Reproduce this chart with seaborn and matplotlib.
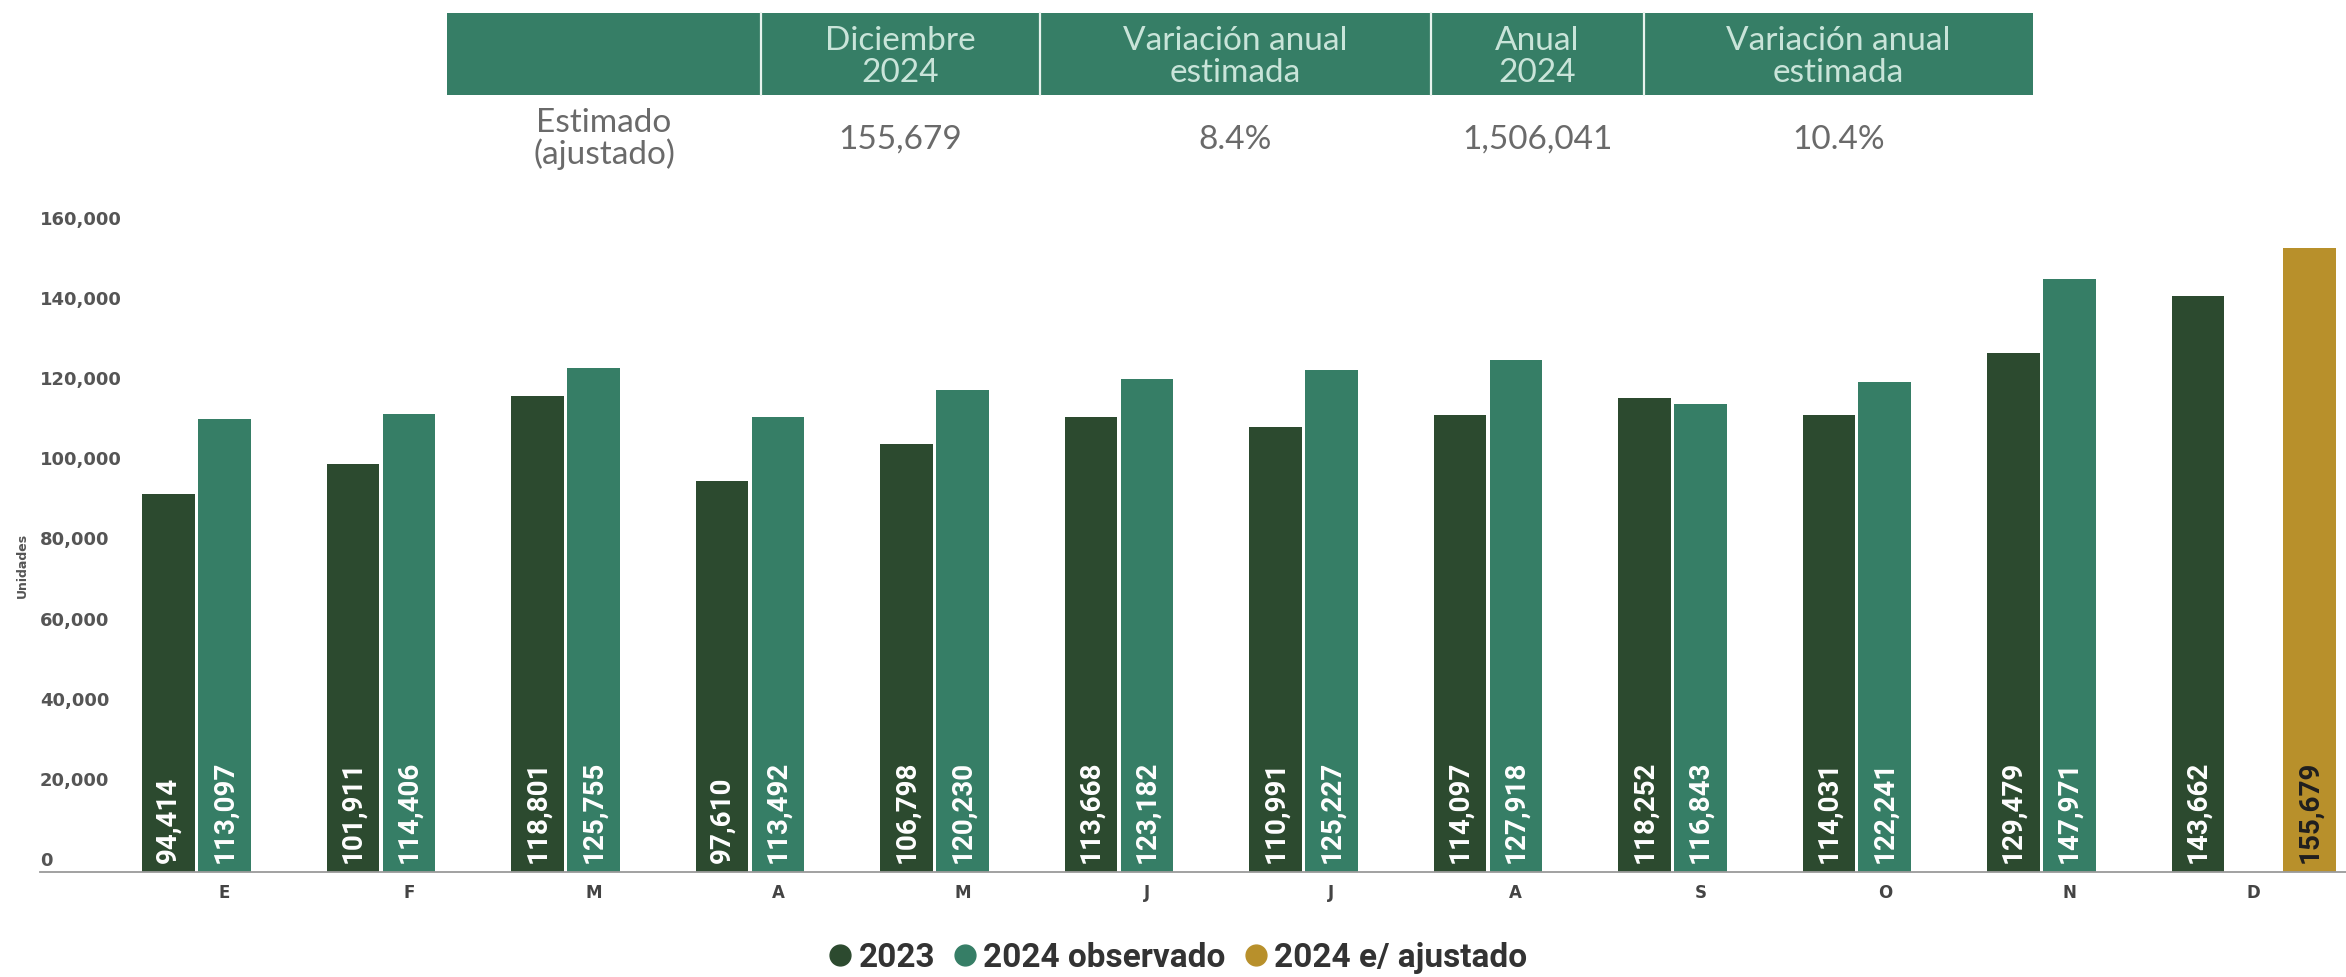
import matplotlib
matplotlib.use("Agg")
import matplotlib.pyplot as plt
import matplotlib.transforms as mtrans
from matplotlib.lines import Line2D
from matplotlib.patches import Rectangle
import seaborn as sns
import pandas as pd
import numpy as np

# ---------------- data ----------------
month_keys = ["ene", "feb", "mar", "abr", "may", "jun", "jul", "ago", "sep", "oct", "nov", "dic"]
month_labels = ["E", "F", "M", "A", "M", "J", "J", "A", "S", "O", "N", "D"]
series = ["2023", "2024 observado", "2024 e/ ajustado"]
values_2023 = [94414, 101911, 118801, 97610, 106798, 113668, 110991, 114097, 118252, 114031, 129479, 143662]
values_2024_obs = [113097, 114406, 125755, 113492, 120230, 123182, 125227, 127918, 116843, 122241, 147971]
months_2024_adj = ["dic"]
values_2024_adj = [155679]

y_ticks = [0, 20000, 40000, 60000, 80000, 100000, 120000, 140000, 160000]
y_label = "Unidades"

table_header = ["", "Diciembre\n2024", "Variación anual\nestimada", "Anual\n2024", "Variación anual\nestimada"]
table_row_label = "Estimado\n(ajustado)"
table_row_values = ["155,679", "8.4%", "1,506,041", "10.4%"]

# ---------------- style ----------------
c_dark = "#2c4a2f"
c_teal = "#367e66"
c_gold = "#b8902b"
palette = {series[0]: c_dark, series[1]: c_teal, series[2]: c_gold}

W, H = 2346, 977
def fx(x):
    return x / W
def fy(y):
    return 1 - y / H

rows = []
for k, v in zip(month_keys, values_2023):
    rows.append((k, series[0], v))
for k, v in zip(month_keys, values_2024_obs):
    rows.append((k, series[1], v))
for k, v in zip(months_2024_adj, values_2024_adj):
    rows.append((k, series[2], v))
df = pd.DataFrame(rows, columns=["mes", "serie", "unidades"])

sns.set_theme(style="white")
plt.rcParams["font.family"] = ["DejaVu Sans"]

fig = plt.figure(figsize=(W / 100, H / 100), dpi=100)
ax = fig.add_axes([fx(40), (H - 872) / H, (W - 40) / W, (872 - 231) / H])

sns.barplot(data=df, x="mes", y="unidades", hue="serie", order=month_keys,
            hue_order=series, palette=palette, width=0.91, gap=0.06,
            saturation=1, errorbar=None, legend=False, ax=ax, linewidth=0)

ax.set_xlim(-1.0, 11.5)
ax.set_ylim(0, 160000)
ax.set_xlabel("")
ax.set_ylabel("")

# x ticks
ax.set_xticks(range(len(month_keys)))
ax.set_xticklabels(month_labels)
ax.tick_params(axis="x", length=0, pad=9, labelsize=12, labelcolor="#444444")
for lbl in ax.get_xticklabels():
    lbl.set_fontweight("semibold")

# y ticks: left-aligned inside, shifted up
ax.set_yticks(y_ticks)
ax.set_yticklabels([f"{v:,}" for v in y_ticks])
ax.tick_params(axis="y", length=0, pad=0, labelsize=13, labelcolor="#555555")
shift = mtrans.ScaledTranslation(0, 13 / 100, fig.dpi_scale_trans)
for lbl in ax.get_yticklabels():
    lbl.set_horizontalalignment("left")
    lbl.set_fontweight("bold")
    lbl.set_transform(lbl.get_transform() + shift)

for s in ["top", "right", "left"]:
    ax.spines[s].set_visible(False)
ax.spines["bottom"].set_color("#9a9a9a")
ax.spines["bottom"].set_linewidth(1.3)
ax.grid(False)

# value labels inside bars
gold_rgb = np.array(matplotlib.colors.to_rgb(c_gold))
for patch in ax.patches:
    h = patch.get_height()
    if h is None or not np.isfinite(h) or h <= 0:
        continue
    fc = np.array(patch.get_facecolor()[:3])
    txt_color = "#1f1f1f" if np.allclose(fc, gold_rgb, atol=0.02) else "white"
    ax.annotate(f"{h:,.0f}", xy=(patch.get_x() + patch.get_width() / 2, 0),
                xytext=(0, 6.5), textcoords="offset points", rotation=90,
                ha="center", va="bottom", color=txt_color, fontsize=20,
                fontweight="bold", family="Roboto")

# y axis title
fig.text(fx(22), fy(565), y_label, rotation=90, ha="center", va="center",
         fontsize=9, fontweight="bold", color="#555555")

# ---------------- table ----------------
col_edges = [447, 761, 1040, 1431, 1644, 2033]
band_top, band_bot = 13, 95
fig.patches.append(Rectangle((fx(col_edges[0]), fy(band_bot)),
                             fx(col_edges[-1]) - fx(col_edges[0]),
                             fy(band_top) - fy(band_bot),
                             transform=fig.transFigure, facecolor=c_teal,
                             edgecolor="none", zorder=1))
for xe in col_edges[1:-1]:
    fig.add_artist(Line2D([fx(xe), fx(xe)], [fy(band_top), fy(band_bot)],
                          transform=fig.transFigure, color="#e8f3ee", lw=1.6, zorder=2))

tfont = dict(family="Lato", fontweight="normal", fontsize=24)
for i, head in enumerate(table_header):
    if not head:
        continue
    cx = (col_edges[i] + col_edges[i + 1]) / 2
    fig.text(fx(cx), fy(57), head, ha="center", va="center", color="#c9e4d9",
             linespacing=1.05, zorder=3, **tfont)

fig.text(fx((col_edges[0] + col_edges[1]) / 2), fy(139), table_row_label,
         ha="center", va="center", color="#6a6a6a", linespacing=1.05, **tfont)
for i, val in enumerate(table_row_values):
    cx = (col_edges[i + 1] + col_edges[i + 2]) / 2
    fig.text(fx(cx), fy(140), val, ha="center", va="center", color="#6a6a6a", **tfont)

# ---------------- legend ----------------
handles = [Line2D([], [], marker="o", linestyle="", markersize=15,
                  markerfacecolor=palette[s], markeredgecolor=palette[s]) for s in series]
fig.legend(handles, series, loc="center", bbox_to_anchor=(fx(1177), fy(958)), ncol=3,
           frameon=False, handletextpad=0.15, columnspacing=0.5, handlelength=0.8,
           borderpad=0, borderaxespad=0,
           prop=dict(family="Roboto", weight="bold", size=24), labelcolor="#333333")

fig.savefig("out.png", dpi=100)
